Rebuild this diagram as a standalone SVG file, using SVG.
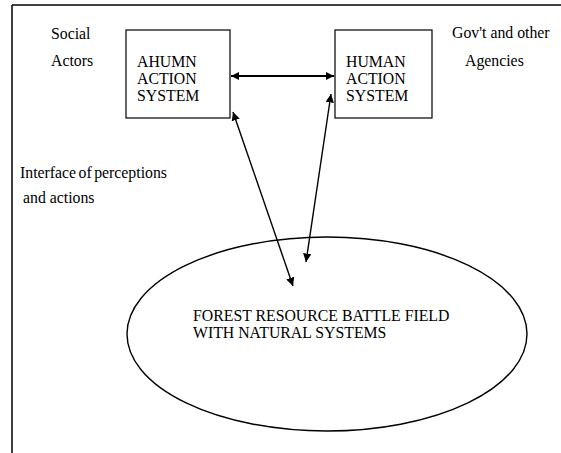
<svg xmlns="http://www.w3.org/2000/svg" width="561" height="453" viewBox="0 0 561 453">
<style>
.t{font-family:'Liberation Serif','DejaVu Serif',serif;font-size:15.8px;fill:#000}
.box{fill:#fff;stroke:#000;stroke-width:1.2}
.con{stroke:#000;fill:none}
</style>
<defs>
<marker id="ah" viewBox="0 0 10 10" refX="10" refY="5" markerWidth="4" markerHeight="4" orient="auto-start-reverse" markerUnits="strokeWidth">
<path d="M0,0 L10,5 L0,10 z" fill="#000"/>
</marker>
<marker id="ah2" viewBox="0 0 10 10" refX="10" refY="5" markerWidth="6" markerHeight="6" orient="auto-start-reverse" markerUnits="strokeWidth">
<path d="M0,0 L10,5 L0,10 z" fill="#000"/>
</marker>
</defs>
<rect width="561" height="453" fill="#fff"/>
<g id="frame">
<line x1="12" y1="5" x2="561" y2="5" stroke="#000" stroke-width="1.5"/>
<line x1="12" y1="5" x2="12" y2="453" stroke="#000" stroke-width="1.5"/>
</g>
<g id="labels" class="t" font-family="'Liberation Serif','DejaVu Serif',serif">
<text x="51" y="39">Social</text>
<text x="51" y="66">Actors</text>
<text x="452" y="38">Gov't and other</text>
<text x="465" y="66">Agencies</text>
<text x="20" y="178" word-spacing="-1.5">Interface of perceptions</text>
<text x="23" y="203">and actions</text>
</g>
<g id="ahumn" class="t" font-family="'Liberation Serif','DejaVu Serif',serif">
<rect class="box" x="126" y="30" width="104" height="88"/>
<text x="137" y="67">AHUMN</text>
<text x="137" y="84">ACTION</text>
<text x="137" y="101">SYSTEM</text>
</g>
<g id="human" class="t" font-family="'Liberation Serif','DejaVu Serif',serif">
<rect class="box" x="335" y="30" width="97" height="88"/>
<text x="346" y="67">HUMAN</text>
<text x="346" y="84">ACTION</text>
<text x="346" y="101">SYSTEM</text>
</g>
<g id="forest" class="t" font-family="'Liberation Serif','DejaVu Serif',serif">
<ellipse cx="327" cy="334" rx="200" ry="97" fill="none" stroke="#000" stroke-width="1.4"/>
<text x="193" y="321">FOREST RESOURCE BATTLE FIELD</text>
<text x="193" y="338">WITH NATURAL SYSTEMS</text>
</g>
<g id="connectors">
<line class="con" x1="231" y1="76" x2="334" y2="76" stroke-width="2" marker-start="url(#ah)" marker-end="url(#ah)"/>
<line class="con" x1="233" y1="112" x2="293" y2="286" stroke-width="1.4" marker-start="url(#ah2)" marker-end="url(#ah2)"/>
<line class="con" x1="331" y1="94" x2="306" y2="262" stroke-width="1.4" marker-start="url(#ah2)" marker-end="url(#ah2)"/>
</g>
</svg>
